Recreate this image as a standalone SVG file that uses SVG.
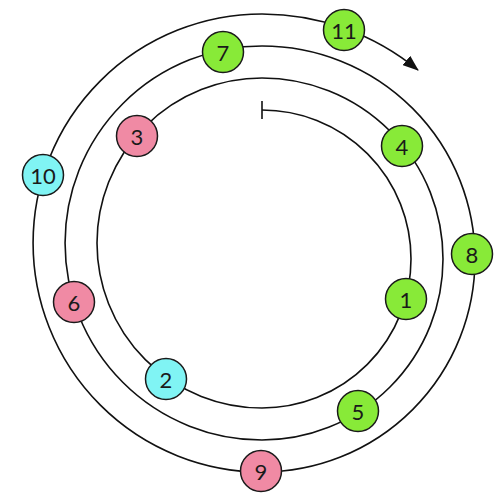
<svg xmlns="http://www.w3.org/2000/svg" width="504" height="494" viewBox="0 0 504 494">
<style>
.sp{fill:none;stroke:#111;stroke-width:1.6}
.n circle{stroke:#1a1a1a;stroke-width:1.5}
.g{fill:#88ea38}
.p{fill:#f08aa4}
.c{fill:#80f4f4}
.n text{font-family:"Lato","Open Sans",sans-serif;font-size:22px;fill:#1a1a1a;text-anchor:middle;dominant-baseline:central}
</style>
<defs>
<marker id="ah" markerWidth="16" markerHeight="12" refX="15" refY="6" orient="auto" markerUnits="userSpaceOnUse" viewBox="0 0 16 12">
<path d="M0,0 L16,6 L0,12 z" fill="#111"/>
</marker>
</defs>
<rect width="504" height="494" fill="#fff"/>
<g id="connectors">
<path class="sp" d="M262,110 A149,149 0 0 1 262,408 A165,165 0 0 1 262,78 A181,181 0 0 1 262,440 A197,197 0 0 1 262,46 A213,213 0 0 1 262,472 A229,229 0 0 1 262,14 A245,245 0 0 1 418,70" marker-end="url(#ah)"/>
<line class="sp" x1="262" y1="101" x2="262" y2="119"/>
</g>
<g id="n1" class="n"><circle class="g" cx="406" cy="299" r="20.5"/><text x="406" y="299">1</text></g>
<g id="n2" class="n"><circle class="c" cx="166" cy="379" r="20.5"/><text x="166" y="379">2</text></g>
<g id="n3" class="n"><circle class="p" cx="137" cy="136" r="20.5"/><text x="137" y="136">3</text></g>
<g id="n4" class="n"><circle class="g" cx="402" cy="146" r="20.5"/><text x="402" y="146">4</text></g>
<g id="n5" class="n"><circle class="g" cx="358" cy="411" r="20.5"/><text x="358" y="411">5</text></g>
<g id="n6" class="n"><circle class="p" cx="74" cy="302" r="20.5"/><text x="74" y="302">6</text></g>
<g id="n7" class="n"><circle class="g" cx="223" cy="52" r="20.5"/><text x="223" y="52">7</text></g>
<g id="n8" class="n"><circle class="g" cx="472" cy="254" r="20.5"/><text x="472" y="254">8</text></g>
<g id="n9" class="n"><circle class="p" cx="261" cy="471" r="20.5"/><text x="261" y="471">9</text></g>
<g id="n10" class="n"><circle class="c" cx="43" cy="175" r="20.5"/><text x="43" y="175">10</text></g>
<g id="n11" class="n"><circle class="g" cx="344" cy="30" r="20.5"/><text x="344" y="30">11</text></g>
</svg>
